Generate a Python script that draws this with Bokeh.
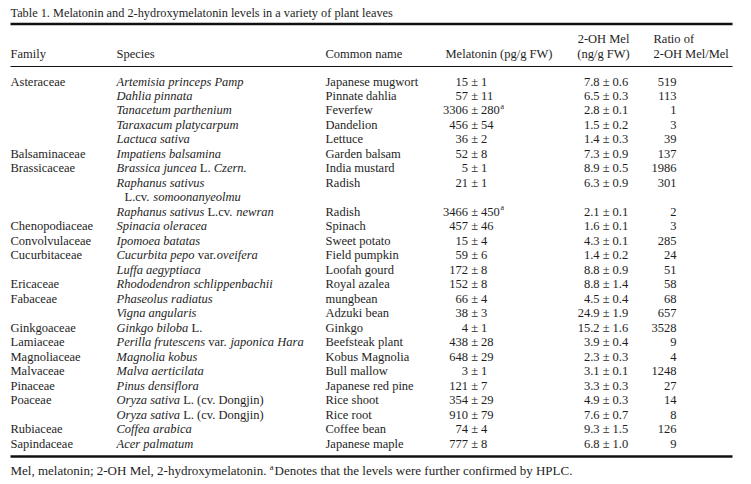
from bokeh.plotting import figure
from bokeh.models import ColumnDataSource, Range1d
from bokeh.core.properties import value
from bokeh.embed import file_html
from bokeh.resources import INLINE

# ---------------- data ----------------
title = "Table 1.  Melatonin and 2-hydroxymelatonin levels in a variety of plant leaves"
footnote_a = "Mel, melatonin; 2-OH Mel, 2-hydroxymelatonin. "
footnote_b = "Denotes that the levels were further confirmed by HPLC."

family = ["Asteraceae", "", "", "", "", "Balsaminaceae", "Brassicaceae", "", "", "",
          "Chenopodiaceae", "Convolvulaceae", "Cucurbitaceae", "", "Ericaceae", "Fabaceae", "",
          "Ginkgoaceae", "Lamiaceae", "Magnoliaceae", "Malvaceae", "Pinaceae", "Poaceae", "",
          "Rubiaceae", "Sapindaceae"]

species = [
    [("Artemisia princeps Pamp", "italic")],
    [("Dahlia pinnata", "italic")],
    [("Tanacetum parthenium", "italic")],
    [("Taraxacum platycarpum", "italic")],
    [("Lactuca sativa", "italic")],
    [("Impatiens balsamina", "italic")],
    [("Brassica juncea", "italic"), (" L. ", "normal"), ("Czern.", "italic")],
    [("Raphanus sativus", "italic")],
    [("L.cv. ", "normal"), ("somoonanyeolmu", "italic")],
    [("Raphanus sativus", "italic"), (" L.cv. ", "normal"), ("newran", "italic")],
    [("Spinacia oleracea", "italic")],
    [("Ipomoea batatas", "italic")],
    [("Cucurbita pepo", "italic"), (" var.", "normal"), ("oveifera", "italic")],
    [("Luffa aegyptiaca", "italic")],
    [("Rhododendron schlippenbachii", "italic")],
    [("Phaseolus radiatus", "italic")],
    [("Vigna angularis", "italic")],
    [("Ginkgo biloba", "italic"), (" L.", "normal")],
    [("Perilla frutescens", "italic"), (" var. ", "normal"), ("japonica Hara", "italic")],
    [("Magnolia kobus", "italic")],
    [("Malva aerticilata", "italic")],
    [("Pinus densiflora", "italic")],
    [("Oryza sativa", "italic"), (" L. (cv. Dongjin)", "normal")],
    [("Oryza sativa", "italic"), (" L. (cv. Dongjin)", "normal")],
    [("Coffea arabica", "italic")],
    [("Acer palmatum", "italic")],
]
continuation = [False] * 8 + [True] + [False] * 17

common = ["Japanese mugwort", "Pinnate dahlia", "Feverfew", "Dandelion", "Lettuce",
          "Garden balsam", "India mustard", "Radish", "", "Radish", "Spinach", "Sweet potato",
          "Field pumpkin", "Loofah gourd", "Royal azalea", "mungbean", "Adzuki bean", "Ginkgo",
          "Beefsteak plant", "Kobus Magnolia", "Bull mallow", "Japanese red pine", "Rice shoot",
          "Rice root", "Coffee bean", "Japanese maple"]

mel = [15, 57, 3306, 456, 36, 52, 5, 21, None, 3466, 457, 15, 59, 172, 152, 66, 38, 4,
       438, 648, 3, 121, 354, 910, 74, 777]
mel_sd = [1, 11, 280, 54, 2, 8, 1, 1, None, 450, 46, 4, 6, 8, 8, 4, 3, 1,
          28, 29, 1, 7, 29, 79, 4, 8]
mel_note = ["", "", "a", "", "", "", "", "", "", "a"] + [""] * 16

oh = [7.8, 6.5, 2.8, 1.5, 1.4, 7.3, 8.9, 6.3, None, 2.1, 1.6, 4.3, 1.4, 8.8, 8.8, 4.5,
      24.9, 15.2, 3.9, 2.3, 3.1, 3.3, 4.9, 7.6, 9.3, 6.8]
oh_sd = [0.6, 0.3, 0.1, 0.2, 0.3, 0.9, 0.5, 0.9, None, 0.1, 0.1, 0.1, 0.2, 0.9, 1.4, 0.4,
         1.9, 1.6, 0.4, 0.3, 0.1, 0.3, 0.3, 0.7, 1.5, 1.0]
ratio = [519, 113, 1, 3, 39, 137, 1986, 301, None, 2, 3, 285, 24, 51, 58, 68, 657, 3528,
         9, 4, 1248, 27, 14, 8, 126, 9]

# ---------------- font metrics (Times, per 1000 em) ----------------
ROMAN = dict(zip("ABCDEFGHIJKLMNOPQRSTUVWXYZ",
                 [722, 667, 667, 722, 611, 556, 722, 722, 333, 389, 722, 611, 889, 722, 722, 556,
                  722, 667, 556, 611, 722, 722, 944, 722, 722, 611]))
ROMAN.update(zip("abcdefghijklmnopqrstuvwxyz",
                 [444, 500, 444, 500, 444, 333, 500, 500, 278, 278, 500, 278, 778, 500, 500, 500,
                  500, 333, 389, 278, 500, 500, 722, 500, 500, 444]))
ITALIC = dict(zip("ABCDEFGHIJKLMNOPQRSTUVWXYZ",
                  [611, 611, 667, 722, 611, 611, 722, 722, 333, 444, 667, 556, 833, 667, 722, 611,
                   722, 611, 500, 556, 722, 611, 833, 611, 556, 556]))
ITALIC.update(zip("abcdefghijklmnopqrstuvwxyz",
                  [500, 500, 444, 500, 444, 278, 500, 500, 278, 278, 444, 278, 722, 500, 500, 500,
                   500, 389, 389, 278, 500, 444, 667, 444, 444, 389]))
for d in (ROMAN, ITALIC):
    d.update({" ": 250, ".": 250, ",": 250, "(": 333, ")": 333, "-": 333, "/": 278,
              ";": 278, ":": 278, "\u00b1": 564})
    d.update({c: 500 for c in "0123456789"})


def text_width(s, style, size):
    tbl = ITALIC if style == "italic" else ROMAN
    return sum(tbl.get(c, 500) for c in s) * size / 1000.0


# ---------------- layout ----------------
FS = 12.5
FS_TITLE = 12.3
FS_FOOT = 13.0
FONT = "Liberation Serif"
INK = "#1e1e1e"
X_FAM, X_SPE, X_COM = 10, 116, 325
X_MEL_HDR = 445
X_MEL = 467.5          # right edge of melatonin value
X_OH = 599             # right edge of 2-OH value
X_OH_HDR = 603
X_RAT = 676            # right edge of ratio
X_RAT_HDR = 653
ROW0, ROWH = 81, 14.48
LEFT, RIGHT = 10, 732

xs, ys, txt, sty, sizes, aligns = [], [], [], [], [], []


def put(x, y, t, style="normal", size=FS, align="left"):
    xs.append(x); ys.append(y); txt.append(t); sty.append(style)
    sizes.append(f"{size}px"); aligns.append(align)


# title
put(LEFT, 12, title, size=FS_TITLE)
# headers
put(X_FAM, 53, "Family"); put(X_SPE, 53, "Species"); put(X_COM, 53, "Common name")
put(X_MEL_HDR, 53, "Melatonin (pg/g FW)")
put(X_OH_HDR, 38, "2-OH Mel", align="center"); put(X_OH_HDR, 53, "(ng/g FW)", align="center")
put(X_RAT_HDR, 38, "Ratio of"); put(X_RAT_HDR, 53, "2-OH Mel/Mel")

pm_gap = text_width(" ", "normal", FS)
for i in range(len(family)):
    y = ROW0 + i * ROWH
    if family[i]:
        put(X_FAM, y, family[i])
    x = X_SPE + (8 if continuation[i] else 0)
    for seg, st in species[i]:
        lead = len(seg) - len(seg.lstrip(" "))
        x += text_width(" " * lead, st, FS)
        core = seg.strip(" ")
        put(x, y, core, st)
        x += text_width(core, st, FS)
        trail = len(seg) - len(seg.rstrip(" "))
        x += text_width(" " * trail, st, FS)
    if common[i]:
        put(X_COM, y, common[i])
    if mel[i] is not None:
        put(X_MEL, y, str(mel[i]), align="right")
        sd_txt = f"\u00b1 {mel_sd[i]}"
        put(X_MEL + pm_gap, y, sd_txt)
        if mel_note[i]:
            put(X_MEL + pm_gap + text_width(sd_txt, "normal", FS) + 0.5, y - 4, mel_note[i], size=8)
    if oh[i] is not None:
        put(X_OH, y, f"{oh[i]:.1f}", align="right")
        put(X_OH + pm_gap, y, f"\u00b1 {oh_sd[i]:.1f}")
    if ratio[i] is not None:
        put(X_RAT, y, str(ratio[i]), align="right")

# footnote
put(LEFT, 470, footnote_a, size=FS_FOOT)
xa = LEFT + text_width(footnote_a, "normal", FS_FOOT)
put(xa, 466, "a", size=8.5)
put(xa + 4.8, 470, footnote_b, size=FS_FOOT)

# ---------------- figure ----------------
W, H = 751, 484
p = figure(width=W, height=H, output_backend="svg", toolbar_location=None,
           x_range=Range1d(0, W), y_range=Range1d(H, 0),
           x_axis_type=None, y_axis_type=None, min_border=0)
p.grid.visible = False
p.outline_line_color = None
p.background_fill_color = "white"
p.border_fill_color = "white"

src = ColumnDataSource(dict(x=xs, y=ys, text=txt, style=sty, size=sizes, align=aligns))
p.text(x="x", y="y", text="text", source=src, text_font=value(FONT),
       text_font_style="style", text_font_size="size", text_align="align",
       text_baseline="middle", text_color=INK)

rule_y = [23.5, 66, 456]
rule_w = [2.5, 1, 2.5]
for ry, rw in zip(rule_y, rule_w):
    p.segment(x0=[LEFT], y0=[ry], x1=[RIGHT], y1=[ry], line_color="#111111", line_width=rw)

open("out.html", "w").write(file_html(p, INLINE))
